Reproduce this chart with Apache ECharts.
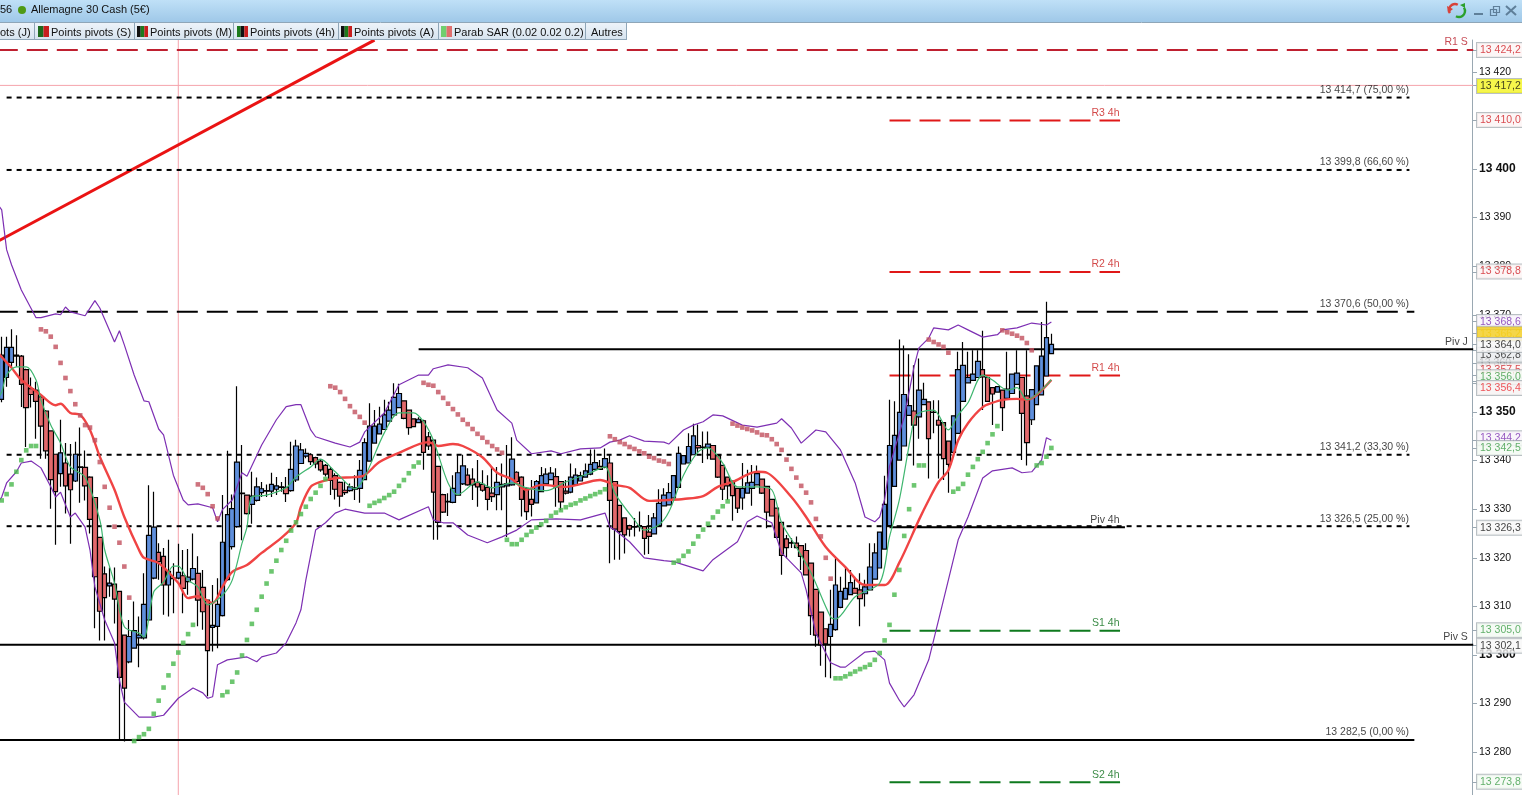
<!DOCTYPE html>
<html><head><meta charset="utf-8">
<script src="https://cdn.jsdelivr.net/npm/echarts@6/dist/echarts.min.js"></script>
<style>html,body{margin:0;padding:0;background:#fff;overflow:hidden}#c{width:1522px;height:795px}</style>
</head><body><div id="c"></div>
<script>
const opens=[13352.6,13357.1,13360.2,13361.5,13361.5,13358.7,13354.8,13354.5,13353.1,13350.2,13346.1,13341.3,13337.3,13339.5,13337.2,13335.8,13338.7,13338.6,13336.6,13332.4,13324.2,13316.7,13314.2,13314.6,13313.1,13304.1,13298.6,13301.4,13303.5,13303.5,13307.2,13315.8,13321.1,13320.3,13314.4,13315.7,13315.8,13316.3,13315.1,13315.6,13316.8,13313.9,13311.3,13305.7,13305.9,13308.1,13315.5,13322.3,13326.4,13333.2,13332.9,13331,13331.8,13333.4,13333.7,13333.7,13334.1,13334.5,13334.5,13333.8,13336,13339.4,13340.9,13341.2,13340.6,13339.9,13339,13338.2,13336.9,13335.5,13333.9,13333.8,13334.1,13334.3,13336.1,13339.9,13343.6,13345.5,13346.4,13348.1,13349.4,13350.9,13352.3,13350.4,13348.6,13347.8,13348.2,13344.9,13344.2,13338.8,13333,13331.5,13331.4,13332.9,13335.2,13337,13336.2,13335.5,13335.1,13334.5,13333.3,13333,13334.6,13334.8,13335,13337.6,13336.6,13334.3,13332,13331.3,13333.6,13335.2,13336.1,13336.7,13335.7,13333.7,13333.5,13335,13335.8,13336.6,13337.2,13338.2,13338.8,13338.6,13339.5,13335.7,13330.8,13328.2,13326.6,13326.3,13326.6,13326.4,13325.3,13324.9,13326.6,13330.7,13330.9,13332.3,13334.5,13339.3,13339.5,13341.2,13343.1,13342.8,13342.7,13343.1,13341,13339,13336.6,13335.8,13334.3,13332.3,13333.3,13334.3,13335,13336.2,13334.7,13332,13330.2,13327.3,13323.9,13323.1,13323,13322.5,13321.5,13318.9,13313.5,13308.8,13305.4,13303.8,13305.2,13309.8,13311.5,13312.4,13313.7,13313.4,13312.6,13313.4,13315.6,13317.9,13321.8,13326.6,13334.7,13340.1,13343,13349.3,13350.2,13349,13351.5,13352.1,13350,13348.3,13347.8,13344,13341.7,13345.6,13352.2,13356,13356.5,13357.1,13358.7,13357.1,13355,13354.1,13354.5,13352.8,13353.8,13355.7,13357.1,13353.3,13348.4,13351.5,13353.5,13357.4,13362];
const closes=[13361.7,13363.3,13363.3,13361.7,13355.7,13350.9,13353.6,13352.2,13347.1,13342,13336.1,13333.6,13341.6,13334.8,13334,13341.3,13338.6,13334.8,13327.9,13316.1,13309,13311.8,13314.8,13311.5,13295.4,13293.2,13303.8,13305,13304.1,13310.4,13324.6,13326.3,13319.2,13314.4,13317.2,13315.8,13317,13313.7,13316,13317.8,13311.3,13308.9,13300.9,13306.1,13310.4,13323.2,13328.9,13330.1,13339.7,13333.3,13329.1,13332.7,13334.6,13334.2,13333.8,13335.1,13334.8,13334.6,13333.2,13338.2,13343,13342.2,13341.5,13339.8,13339.3,13338.1,13337.2,13335.9,13334.1,13332.7,13333.4,13334.6,13334.4,13338,13343.7,13347.1,13347.1,13347.5,13349.4,13350.4,13353,13353.8,13348.7,13346.8,13347,13348.5,13341.7,13343,13333.5,13327.3,13329.4,13331.6,13334.3,13337.5,13338.9,13335,13335,13334.6,13333.9,13332,13332.6,13335.5,13335.1,13335.2,13340.3,13335.7,13332,13329.5,13331,13335.7,13336.9,13337.2,13337.4,13334.6,13331.5,13333.3,13336.6,13337,13336.9,13337.9,13339.2,13339.6,13338.2,13340.4,13331.8,13325.9,13325.4,13324.7,13325.9,13326.4,13326.4,13324,13324.4,13328.2,13331.2,13332.9,13333.4,13336.9,13341.5,13341,13342.9,13345.1,13342.6,13342.7,13343.4,13340.3,13336.6,13334.1,13334.8,13332.8,13330.2,13334.3,13335.4,13335.5,13337.3,13333.3,13329.4,13328.6,13324.2,13320.5,13322.1,13323,13322.1,13320.3,13316.5,13308.1,13304.1,13302.1,13302.3,13306.3,13314.4,13313.1,13313.7,13314.9,13312.7,13311.6,13314,13318.1,13321,13325.3,13331,13343.1,13345.2,13349.9,13353.6,13351.3,13347.3,13354.5,13352.6,13344.5,13349.9,13347.3,13340.4,13339.2,13349.2,13358.7,13359.6,13357.1,13357.8,13360.4,13357.2,13352.2,13353.7,13355.2,13350.9,13354.7,13357.8,13358,13349.7,13343.7,13354.6,13359.5,13361.5,13365.3,13363.9];
const lows=[13352,13355.2,13359,13359.3,13351,13342.8,13350.9,13344.5,13340.4,13340.4,13330.1,13322.7,13334.6,13329.1,13322.9,13335.6,13331.3,13331.8,13325,13305.5,13303,13303,13312,13306.5,13282.5,13282.2,13298.3,13301.3,13297.5,13303.2,13307,13315.6,13315.5,13308.3,13307.9,13308.6,13315.6,13308.6,13312.4,13315.4,13305.9,13305.2,13291.5,13300.7,13301.4,13307.9,13315.3,13321.7,13326.2,13323.6,13328.9,13327,13331.6,13332.5,13332.5,13332.5,13332.9,13333.6,13331.5,13333.6,13335.6,13339.3,13340.5,13339.1,13338.4,13337.7,13336.7,13332.9,13332,13330.5,13332.9,13333.6,13331.9,13331.3,13336,13339.8,13343.5,13345.4,13346.3,13348,13349.3,13350.8,13348.5,13345.3,13346.9,13347.7,13338.1,13342.2,13323.7,13323.7,13329.2,13328.6,13331.2,13332.8,13335,13334.8,13331.9,13330.5,13333.6,13329.8,13331.5,13329.8,13329.8,13324.3,13334.8,13335.5,13328.5,13327.8,13328.5,13331.2,13333.5,13335,13336,13330.5,13329.8,13333,13333.3,13334.8,13335.7,13336.5,13337,13338.1,13338.1,13338.4,13318.9,13319.6,13319.6,13320.9,13324.4,13324.4,13325.4,13320.6,13320.8,13324.8,13326.5,13330.6,13330.8,13332.2,13334.4,13339.2,13339.4,13341.1,13341.5,13339.5,13340.3,13340.2,13336.4,13331.9,13331.9,13327.6,13329.2,13329.9,13333.2,13330.7,13334.9,13333.1,13326.1,13328.5,13324,13316.5,13319.9,13322,13322,13317.5,13316.4,13304.1,13301.7,13297.8,13295.4,13295.2,13305,13309.6,13311.4,13312.3,13312.6,13305.9,13310,13313.3,13315.5,13317.8,13321.7,13326.4,13334.6,13340,13342.9,13349.2,13339,13344.5,13351.4,13336.3,13345.6,13336.3,13336,13333.4,13341.6,13345.5,13352.1,13355.9,13356.4,13357,13350.4,13352.1,13347.3,13354,13346.1,13352.7,13353.7,13355.6,13340.1,13339,13347.3,13351.4,13353.4,13357.3,13361.9];
const highs=[13365.5,13365.5,13367,13365.8,13361.7,13358.9,13357.1,13356.2,13353.4,13350.4,13346.2,13341.4,13348.4,13343.6,13343.4,13343.9,13346.8,13342.1,13336.8,13332.5,13324.3,13318.2,13318,13318,13313.2,13304.2,13307.2,13311,13307.9,13316.8,13334.9,13333.6,13323,13322,13323.7,13318.9,13322.9,13321.6,13321.8,13325,13320.3,13317.5,13311.4,13314.4,13315.8,13332.9,13342,13333,13355.3,13343.2,13333,13337.7,13336.5,13335.6,13335.1,13337.5,13336.6,13335.6,13336.6,13343.9,13344.3,13343.6,13342.5,13341.5,13340.8,13340.3,13339.3,13338.7,13337.4,13335.7,13335.7,13335.3,13337,13340.1,13344.6,13351.8,13350.4,13351.1,13352.5,13352.1,13355.9,13355.8,13352.4,13350.5,13348.7,13348.9,13348.4,13345.9,13344.3,13338.9,13333.2,13333.3,13337,13341.2,13341.2,13338.4,13338.4,13340.1,13338,13337,13338.7,13338.7,13339.4,13343.2,13344.8,13337.8,13336.8,13334.5,13336,13336,13338.7,13338.4,13338.7,13338.4,13335.8,13336,13339.4,13338.4,13337.7,13339.4,13342.3,13342.3,13340.1,13342.5,13341.2,13335.8,13330.9,13328.3,13326.8,13328.2,13329.5,13326.5,13328.8,13329.2,13334.1,13334.3,13335.4,13337,13342.9,13341.1,13345.6,13347.6,13347.4,13346,13346,13343.2,13341.1,13339.1,13336.7,13335.9,13334.4,13339.5,13338.1,13339.1,13339,13336.3,13334.8,13332.1,13330.3,13327.4,13324.7,13324,13324.4,13322.6,13323,13319,13313.6,13308.9,13305.5,13313.4,13319.9,13316.1,13318.2,13317.5,13316.1,13316.8,13315.5,13323,13323,13325.4,13336.9,13352.5,13352.2,13364.9,13363.7,13361.9,13359.6,13361,13356,13352.2,13352.4,13352.4,13347.9,13344.1,13349.3,13362.4,13364.4,13362.4,13362.7,13362.7,13366.7,13357.2,13355.1,13355.3,13354.6,13362.4,13357.9,13362.7,13357.2,13362.7,13354.7,13359.6,13368.5,13372.7,13366.1];

const bollUpper=[[-1,13393],[0,13391.6],[1,13383.4],[2,13380.3],[4,13375.1],[7,13369.4],[8,13369.4],[11,13370.2],[12,13370],[13,13371.6],[14,13370.6],[17,13369.8],[19,13372.9],[20,13371.4],[23,13364.4],[24,13366.7],[25,13363.8],[27,13357.6],[29,13352.3],[30,13352.1],[32,13346.5],[33,13345.3],[35,13337],[37,13331.9],[38,13330.9],[40,13331.1],[43,13330.3],[44,13327.4],[45,13329.9],[47,13331.9],[49,13337.5],[50,13336.8],[53,13343.2],[56,13348.4],[58,13351.1],[60,13351.5],[61,13351.5],[63,13346.3],[64,13344.9],[68,13343.6],[71,13342.8],[73,13343.8],[74,13345.9],[78,13349.8],[81,13355.6],[85,13357.6],[87,13357.6],[88,13358.9],[91,13359.7],[95,13359.1],[98,13357],[101,13350.4],[104,13347.7],[105,13344.2],[108,13341.4],[112,13342],[114,13341.4],[118,13342.4],[122,13342.6],[124,13343.8],[126,13344.2],[128,13345.1],[131,13344],[135,13343.8],[136,13343.4],[139,13346.3],[141,13347.3],[143,13348],[145,13349.4],[147,13349.2],[151,13347.3],[154,13346.9],[158,13347.7],[159,13348.6],[161,13346.7],[163,13343.6],[166,13346.3],[168,13345.9],[171,13342.2],[174,13335.4],[176,13328.4],[178,13327.4],[179,13328.4],[180,13332],[181,13338.8],[184,13349],[186,13359.3],[187,13363.2],[189,13365.2],[190,13367.3],[193,13366.9],[195,13367.9],[197,13366.9],[200,13365.4],[203,13365.9],[204,13366.9],[207,13367.3],[210,13368.3],[213,13367.9],[214,13368.5]];
const bollLower=[[-1,13331],[0,13332.5],[1,13335.4],[3,13337.7],[4,13339.5],[6,13339.9],[8,13338.5],[10,13334.6],[11,13332.5],[12,13333.5],[14,13328.4],[15,13329.2],[17,13326.3],[18,13321.6],[19,13314],[21,13307.2],[23,13302.5],[24,13294.8],[25,13290.3],[28,13287.2],[31,13287.2],[33,13287.6],[36,13291.1],[39,13293.2],[41,13292.2],[42,13291.1],[43,13291.4],[44,13298],[46,13299],[50,13299.6],[52,13298.6],[53,13299.6],[56,13300.4],[58,13302.5],[60,13306.6],[61,13309.3],[62,13315.4],[64,13325.7],[66,13327.2],[68,13329.2],[70,13330],[74,13329.2],[78,13329.2],[81,13327.8],[87,13330.5],[88,13327.8],[90,13327.2],[92,13327.2],[95,13324.7],[99,13323.1],[102,13324.3],[105,13325.7],[108,13327.8],[113,13328],[118,13327.8],[123,13329.2],[124,13326.3],[125,13325.7],[128,13323.3],[131,13320],[135,13319.4],[137,13319.2],[143,13317.3],[145,13319.6],[150,13323.3],[152,13327.4],[154,13328.6],[157,13327.2],[159,13321],[163,13316.9],[164,13313.4],[166,13304.5],[169,13298.4],[171,13297.5],[172,13297.5],[176,13300.6],[178,13300.8],[180,13299],[181,13294.2],[183,13290.7],[184,13289.3],[186,13291.8],[189,13299],[192,13311.3],[195,13323.7],[197,13328.4],[200,13336.4],[202,13337.9],[206,13338.5],[208,13337.5],[210,13337.7],[212,13340.1],[213,13344.7],[214,13344.2]];
const maSlow=[[-1,13362.5],[0,13361.3],[2,13359.1],[4,13356.6],[8,13353.5],[11,13351.4],[12,13351.7],[14,13349.8],[16,13349.4],[18,13346.3],[20,13340.8],[23,13334],[25,13328.4],[28,13321.6],[29,13320],[32,13318.9],[36,13314.8],[38,13311.7],[40,13312.1],[43,13310.7],[45,13314],[47,13317.1],[50,13318.5],[53,13321],[57,13324.1],[60,13327.2],[61,13330.5],[63,13334.6],[65,13335.6],[68,13336.4],[72,13336.6],[74,13337],[77,13339.7],[81,13341.6],[87,13343.8],[89,13343],[92,13343.4],[94,13343],[98,13340.7],[101,13337.5],[104,13336.2],[107,13334],[110,13335],[115,13334.6],[122,13336],[125,13335],[128,13334.4],[132,13331.7],[136,13331.9],[139,13332.1],[143,13332.7],[146,13334.6],[149,13335.6],[154,13337.7],[156,13337.5],[161,13332.5],[164,13328.4],[168,13322.2],[172,13318.1],[176,13314.4],[180,13314.4],[183,13319],[187,13327.8],[189,13331.9],[191,13335.6],[193,13338],[195,13344.2],[197,13347.7],[200,13351],[202,13351.9],[204,13352.5],[207,13352.7],[209,13352.5],[211,13353.5],[214,13356.6]];
const maFast=[[-1,13352.5],[0,13354.1],[1,13357.6],[3,13359.3],[5,13359.3],[7,13356.6],[8,13352.5],[10,13347.3],[12,13343.6],[14,13338.7],[17,13336.6],[20,13327.8],[21,13321.6],[23,13314.8],[25,13305.8],[28,13304.5],[29,13303.7],[31,13313],[33,13315],[35,13318.3],[36,13318.3],[38,13315.4],[40,13314],[42,13310.3],[45,13312.3],[47,13315.4],[49,13323],[50,13326.3],[51,13332.5],[54,13332.9],[58,13334.4],[60,13336.6],[63,13338.7],[65,13340.3],[68,13337.7],[72,13334.2],[74,13336.6],[78,13345.7],[81,13349.8],[84,13349.8],[86,13348],[88,13344.2],[91,13335.4],[93,13333],[97,13335.6],[100,13334.4],[104,13335.4],[107,13334.4],[111,13333.8],[115,13335.6],[120,13337.5],[123,13338.7],[125,13333.3],[129,13327.8],[131,13325.7],[134,13326.8],[136,13329.4],[139,13337],[142,13341.8],[144,13342.6],[147,13339.5],[150,13334.6],[154,13334.6],[157,13334],[159,13327.2],[162,13322.2],[165,13316.9],[169,13307.8],[170,13307.4],[174,13312],[179,13314.8],[181,13324.3],[183,13331.9],[186,13348.4],[187,13349.8],[190,13350.4],[193,13346.3],[195,13349.4],[197,13351.9],[200,13357.6],[202,13356.6],[205,13354.5],[207,13355],[209,13352.5],[214,13356.6]];

const sarRedRuns=[[8,[13367,13366.6,13365.5,13363.4,13360.1,13357,13354.3,13351.6,13349.3,13347.3,13346.8,13344.2,13339.7,13334.6,13330.3,13326.4,13323.1,13318.2,13311.8]],[40,[13335.1,13334.4,13333.1,13330.6,13328.1]],[67,[13355.3,13355,13354.1,13352.7,13351.2,13350,13349,13347.8]],[86,[13356,13355.6,13355.4,13354.1,13352.9,13351.7,13350.6,13349.5,13348.4,13347.5,13346.5,13345.5,13344.7,13343.8,13343,13342.3,13341.6]],[124,[13345,13344.4,13343.8,13343.4,13342.8,13342.4,13341.9,13341.5,13340.8,13340.5,13340,13339.8,13339.3]],[149,[13347.6,13347.2,13346.8,13346.5,13346.2,13345.8,13345.3,13345.2,13344.4,13343.4,13342.2,13340.2,13338.3,13336.5,13334.8,13333.4,13331.4,13328,13324.4,13320,13315.7]],[189,[13364.9,13364.4,13363.9,13363.4,13362.2]],[204,[13366.8,13366.4,13366.1,13365.7,13365.2,13364.2,13362.7]]];
const sarGreenRuns=[[0,[13331.8,13333.1,13335.1,13337.7,13340.1,13342.1,13343,13343]],[27,[13282.3,13283.1,13283.7,13284.8,13287.9,13290.6,13293.3,13295.8,13298.2,13300.5,13302.5,13304.3,13306.2]],[45,[13291.7,13292.4,13294.5,13296.4,13299.9,13303.1,13306.4,13309.3,13312,13314.7,13317.2,13319.4,13321.6,13323.5,13325.6,13327.3]],[61,[13329,13330.5,13332.1,13333.4,13334.8,13336.2]],[75,[13330.7,13331.3,13331.7,13332.3,13332.9,13333.6,13334.8,13336,13337.4,13338.8,13339.6]],[103,[13323.7,13322.8,13322.8,13323.7,13324.7,13325.4,13326.2,13326.9,13327.6,13328.6,13329.3,13329.8,13330.4,13330.9,13331.2,13331.8,13332.2,13332.7,13333.1,13333.5,13334.1]],[137,[13319,13319.4,13320.4,13321.3,13322.9,13324.4,13325.8,13327,13328.3,13329.5,13330.6,13331.6]],[170,[13295.2,13295.2,13295.6,13296.1,13296.6,13297.1,13297.5,13298,13299,13300.4,13303,13306.2,13312.4,13317.5,13324.5,13330,13334.9,13339,13339]],[194,[13333.6,13334.2,13335.2,13337.1,13338.7,13340.3,13341.8,13343.6,13345.4,13347.1]],[211,[13339,13339.5,13340.8,13342.6]]];

// name, price, first bar, last bar, style key, text, text bar (bar -1 = left of the first candle)
const levelRows=[
 ['R1 S',13424.5,-1,300,'monthRed','R1 S',299],
 ['fib75',13414.7,1,287,'fibDot','13 414,7 (75,00 %)',287],
 ['R3 4h',13410.0,181,228,'red4h','R3 4h',228],
 ['fib66',13399.8,1,287,'fibDot','13 399,8 (66,60 %)',287],
 ['R2 4h',13378.8,181,228,'red4h','R2 4h',228],
 ['fib50',13370.6,-1,288,'fibDash','13 370,6 (50,00 %)',287],
 ['Piv J',13362.9,85,300,'solid','Piv J',299],
 ['R1 4h',13357.5,181,228,'red4h','R1 4h',228],
 ['fib33',13341.2,1,287,'fibDot','13 341,2 (33,30 %)',287],
 ['fib25',13326.5,1,287,'fibDot','13 326,5 (25,00 %)',287],
 ['Piv 4h',13326.3,181,229,'solid','Piv 4h',228],
 ['S1 4h',13305.0,181,228,'green4h','S1 4h',228],
 ['Piv S',13302.1,-1,300,'solid','Piv S',299],
 ['fib0',13282.5,-1,288,'solid','13 282,5 (0,00 %)',287],
 ['S2 4h',13273.8,181,228,'green4h','S2 4h',228]
];
const trendPoints=[[-1,13385],[76,13426.5]];
const crossBar=36, crossPrice=13417.2;
const tickLabels=[13420,13400,13390,13380,13370,13360,13350,13340,13330,13320,13310,13300,13290,13280];
// text, price, style key, vertical shift
const priceTags=[
 ['13 424,2',13424.4,'red',0],['13 417,2',13417.2,'yellow',1],['13 410,0',13410.0,'red',0],['13 378,8',13378.8,'red',0],
 ['13 368,6',13368.6,'purple',1],['13 366,2',13366.2,'gold',1],['13 362,8',13362.8,'grey',5.5],['13 364,0',13364.0,'black',1.5],
 ['13 357,5',13357.5,'red',-4.5],['13 356,0',13356.0,'green',-5],['13 356,4',13356.4,'bright',7.5],
 ['13 344,2',13344.2,'purple',-1.5],['13 342,5',13342.5,'green',0],
 ['13 326,3',13326.3,'black',1],['13 305,0',13305.0,'green',0],['13 302,1',13302.1,'black',1.5],['13 273,8',13273.8,'green',0]
];
const tabNames=['Points pivots (S)','Points pivots (M)','Points pivots (4h)','Points pivots (A)','Parab SAR (0.02 0.02 0.2)','Autres'];

const FONT='"Liberation Sans",Arial,sans-serif';
const pad=1;                                   // one empty slot left of the first candle
const at=p=>[p[0]+pad,p[1]];
const runsToPoints=r=>r.flatMap(([s,v])=>v.map((p,k)=>[s+k+pad,p]));
const barCount=302;
const categories=Array.from({length:barCount},(_,i)=>i-pad);
const candles=[['-','-','-','-']].concat(opens.map((o,i)=>[o,closes[i],lows[i],highs[i]]));
const yMax=13426.54,yMin=13271.19;

const levelStyles={
 monthRed:{color:'#bf2030',width:2,type:[21,9]},
 red4h:{color:'#e01818',width:2,type:[21,9]},
 green4h:{color:'#0e7a1e',width:2,type:[21,9]},
 fibDot:{color:'#000',width:2,type:[5,5]},
 fibDash:{color:'#000',width:2,type:[21,9]},
 solid:{color:'#000',width:2,type:'solid'}
};
const textColors={monthRed:'#b81c28',red4h:'#c81c1c',green4h:'#0a6e18',fibDot:'#111',fibDash:'#111',solid:'#111'};
const tagStyles={
 red:{color:'#d01f26',bg:'#fdf4f4'},yellow:{color:'#111',bg:'#f4f41e'},purple:{color:'#7a2fb0',bg:'#f7f3fa'},
 gold:{color:'#f2cc1a',bg:'#f2cc1a'},grey:{color:'#222',bg:'#e9ebee'},black:{color:'#111',bg:'#f8f8f8'},
 green:{color:'#3c9c47',bg:'#f3faf3'},bright:{color:'#ea2c32',bg:'#f6f2f2'}
};

const levelSeries=levelRows.map(r=>({type:'line',name:r[0],silent:true,symbol:'none',z:3,animation:false,
  data:[[r[2]+pad,r[1]],[r[3]+pad,r[1]]],lineStyle:levelStyles[r[4]]}));

const lineOf=(name,data,color,width,z,smooth)=>({type:'line',name,data:data.map(at),symbol:'none',smooth:smooth||false,silent:true,z,animation:false,lineStyle:{color,width}});

const option={
 animation:false,backgroundColor:'#fff',
 grid:{left:-5.655,top:40,width:1481.31,height:755,containLabel:false,outerBoundsMode:'none'},
 xAxis:{type:'category',data:categories,boundaryGap:true,show:false},
 yAxis:{type:'value',position:'right',offset:-3.65,min:yMin,max:yMax,scale:true,splitLine:{show:false},
  axisLine:{show:true,lineStyle:{color:'#9aa8b2',width:1}},
  axisTick:{show:true,length:5,lineStyle:{color:'#9aa8b2'},customValues:tickLabels.concat(priceTags.map(t=>t[1]))},
  axisLabel:{show:true,margin:7,color:'#111',fontFamily:FONT,fontSize:10.5,customValues:tickLabels,
   formatter:v=>{const s=String(Math.round(v)).replace(/^13/,'13 ');return v%50===0?'{b|'+s+'}':s;},
   rich:{b:{fontWeight:'bold',fontSize:12,color:'#111',fontFamily:FONT}}}},
 series:[
  lineOf('crossV',[[crossBar,yMin],[crossBar,yMax]],'#f5a3ab',1,1),
  lineOf('crossH',[[-1,crossPrice],[300,crossPrice]],'#f5a3ab',1,1),
  lineOf('trend',trendPoints,'#ea1313',3,2),
  ...levelSeries,
  {type:'candlestick',name:'DAX',data:candles,barWidth:5,z:4,silent:true,animation:false,
   itemStyle:{color:'#5f8fdc',color0:'#e2696c',borderColor:'#000',borderColor0:'#000',borderWidth:1.2}},
  lineOf('Bollinger haut',bollUpper,'#7d2fb3',1.2,5),
  lineOf('Bollinger bas',bollLower,'#7d2fb3',1.2,5),
  lineOf('MM lente',maSlow,'#f04444',2.4,6,0.3),
  lineOf('MM rapide',maFast,'#3fb66f',1.2,6,0.3),
  {type:'scatter',name:'SAR baisse',data:runsToPoints(sarRedRuns),symbol:'rect',symbolSize:4.6,z:7,silent:true,itemStyle:{color:'#c2505e'}},
  {type:'scatter',name:'SAR hausse',data:runsToPoints(sarGreenRuns),symbol:'rect',symbolSize:4.6,z:7,silent:true,itemStyle:{color:'#48b84c'}},
  {type:'scatter',name:'textes',z:8,silent:true,symbolSize:1,itemStyle:{color:'transparent'},
   data:levelRows.map(r=>({value:[r[6]+pad,r[1]],label:{show:true,formatter:r[5],position:[0,0],align:'right',verticalAlign:'bottom',
     offset:[0,-1.5],color:textColors[r[4]],fontFamily:FONT,fontSize:10.5}}))},
  {type:'scatter',name:'prix',z:20,silent:true,symbolSize:1,itemStyle:{color:'transparent'},
   data:priceTags.map(t=>{const s=tagStyles[t[2]];return {value:[299+pad,t[1]],label:{show:true,formatter:t[0],position:[0,0],
     align:'left',verticalAlign:'middle',offset:[9.2,t[3]],color:s.color,backgroundColor:s.bg,fontFamily:FONT,fontSize:10.5,
     width:46,padding:[1,2,1,3],lineHeight:12,borderColor:'#a9b0b5',borderWidth:1}};})}
 ],
 graphic:{elements:[]}
};

const el=[];
const Z=100;
el.push({type:'rect',z:Z,shape:{x:0,y:0,width:1522,height:22},style:{fill:new echarts.graphic.LinearGradient(0,0,0,1,[{offset:0,color:'#bfe0f7'},{offset:1,color:'#9fc8e8'}])}});
el.push({type:'line',z:Z,shape:{x1:0,y1:22.5,x2:1522,y2:22.5},style:{stroke:'#8fa6b8',lineWidth:1}});
el.push({type:'text',z:Z+1,x:0,y:4,style:{text:'56',font:'11px '+FONT,fill:'#111'}});
el.push({type:'circle',z:Z+1,shape:{cx:22,cy:10,r:4},style:{fill:'#4f9a14'}});
el.push({type:'text',z:Z+1,x:31,y:4,style:{text:'Allemagne 30 Cash (5€)',font:'11px '+FONT,fill:'#111'}});
el.push({type:'rect',z:Z,shape:{x:0,y:23,width:626,height:17},style:{fill:new echarts.graphic.LinearGradient(0,0,0,1,[{offset:0,color:'#edf3f9'},{offset:1,color:'#d6e3ef'}])}});
el.push({type:'line',z:Z,shape:{x1:0,y1:39.5,x2:626,y2:39.5},style:{stroke:'#8fa6b8',lineWidth:1}});
el.push({type:'text',z:Z+1,x:0,y:27,style:{text:'ots (J)',font:'11px '+FONT,fill:'#111'}});
[34,134,233,338,438,585,626].forEach(x=>el.push({type:'line',z:Z+1,shape:{x1:x+.5,y1:23,x2:x+.5,y2:40},style:{stroke:'#8fa6b8',lineWidth:1}}));
const tabX=[51,150,250,354,454,591];
const iconX=[38,137,237,341,441];
const iconCols=[['#1d6a1d','#c81e1e'],['#111','#1d7a1d','#c81e1e'],['#1d7a1d','#111','#c81e1e'],['#111','#1d7a1d','#c81e1e'],['#6fcf6f','#e0706f']];
tabNames.forEach((t,i)=>{
 el.push({type:'text',z:Z+1,x:tabX[i],y:27,style:{text:t,font:'11px '+FONT,fill:'#111'}});
 if(i<5){const c=iconCols[i],w=11/c.length;c.forEach((col,k)=>el.push({type:'rect',z:Z+1,shape:{x:iconX[i]+k*w,y:26,width:w,height:11},style:{fill:col}}));}
});
el.push({type:'rect',z:Z+1,shape:{x:1474,y:13,width:9,height:2},style:{fill:'#5f7f99'}});
el.push({type:'rect',z:Z+1,shape:{x:1490.5,y:9.5,width:6,height:6},style:{fill:'none',stroke:'#5f7f99',lineWidth:1.2}});
el.push({type:'rect',z:Z+1,shape:{x:1493.5,y:6.5,width:6,height:6},style:{fill:'none',stroke:'#5f7f99',lineWidth:1.2}});
el.push({type:'line',z:Z+1,shape:{x1:1506,y1:6,x2:1516,y2:15},style:{stroke:'#5f7f99',lineWidth:2}});
el.push({type:'line',z:Z+1,shape:{x1:1516,y1:6,x2:1506,y2:15},style:{stroke:'#5f7f99',lineWidth:2}});
el.push({type:'arc',z:Z+1,shape:{cx:1455,cy:10,r:6,startAngle:2.6,endAngle:5.2},style:{fill:'none',stroke:'#d8423a',lineWidth:2.4}});
el.push({type:'polygon',z:Z+1,shape:{points:[[1447,6],[1453,9],[1448,13]]},style:{fill:'#d8423a'}});
el.push({type:'arc',z:Z+1,shape:{cx:1459,cy:11,r:6,startAngle:-0.6,endAngle:2.1},style:{fill:'none',stroke:'#2ba02b',lineWidth:2.4}});
el.push({type:'polygon',z:Z+1,shape:{points:[[1465,8],[1460,5],[1465,3]]},style:{fill:'#2ba02b'}});
option.graphic.elements=el;

const chart=echarts.init(document.getElementById('c'),null,{renderer:'canvas'});
chart.setOption(option);
</script></body></html>
